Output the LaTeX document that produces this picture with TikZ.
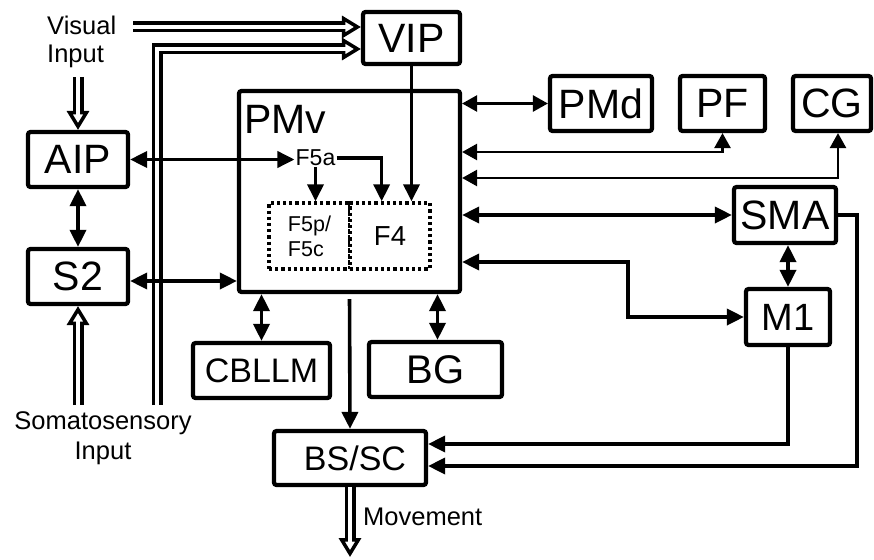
\documentclass[tikz,border=0pt]{standalone}
\usepackage{fontspec}
\setmainfont{Liberation Sans}
\usetikzlibrary{arrows.meta,calc}
\begin{document}
\begin{tikzpicture}[x=1pt,y=-1pt,
  box/.style={draw, line width=4.2pt, rounded corners=2.5pt, fill=white, inner sep=0pt, anchor=center},
  dotbox/.style={draw, line width=3.4pt, dash pattern=on 3.2pt off 3pt, fill=white, inner sep=0pt},
  fbig/.style={font=\fontsize{41}{46}\selectfont},
  fmid/.style={font=\fontsize{34}{40}\selectfont},
  fsmall/.style={font=\fontsize{25.5}{29}\selectfont},
  tip/.tip={Triangle[length=17pt,width=16pt]},
  arr/.style={line width=3.6pt, -tip},
  barr/.style={line width=3.6pt, tip-tip},
  tbarr/.style={line width=2.6pt, black, {Triangle[length=15pt,width=16pt]}-{Triangle[length=15pt,width=16pt]}},
  dbl/.style={line width=3.5pt, -{Triangle[open, length=19pt, width=22pt, line width=3.5pt]},
    preaction={draw, arrows=-, line width=11pt, shorten >=18pt},
    postaction={draw, arrows=-, white, line width=3.4pt, shorten >=13pt}}
]
\useasboundingbox (0,0) rectangle (874,559);

% boxes
\node[box,fbig,minimum width=97pt,minimum height=52pt] (VIP) at (411.5,38) {VIP};
\node[box,minimum width=221pt,minimum height=201pt] (PMv) at (349.5,191.5) {};
\node[fbig,anchor=base west,inner sep=0pt] (PMvl) at (244,133) {PMv};
\node[box,fbig,minimum width=102pt,minimum height=55pt] (PMd) at (601,103.5) {PMd};
\node[box,fbig,minimum width=85pt,minimum height=55pt] (PF) at (722.5,103.5) {PF};
\node[box,fbig,minimum width=78pt,minimum height=55pt] (CG) at (832,103.5) {CG};
\node[box,fbig,minimum width=102pt,minimum height=56pt] (SMA) at (785,215) {SMA};
\node[box,font=\fontsize{38}{44}\selectfont,minimum width=84pt,minimum height=56pt] (M1) at (788,317) {M1};
\node[box,fbig,minimum width=100pt,minimum height=55pt] (AIP) at (78,159.5) {AIP};
\node[box,fbig,minimum width=100pt,minimum height=55pt] (S2) at (78,276.5) {S2};
\node[box,fmid,minimum width=137pt,minimum height=55pt] (CBLLM) at (261.5,370.5) {CBLLM};
\node[box,font=\fontsize{40}{46}\selectfont,minimum width=133pt,minimum height=55pt] (BG) at (435.5,369.5) {BG};
\node[box,fmid,minimum width=152pt,minimum height=54pt] (BSSC) at (350,458) {\hspace*{10pt}BS/SC};
\node[dotbox,minimum width=81pt,minimum height=66pt,align=left,font=\fontsize{21.5}{25}\selectfont] (F5p) at (309.5,236) {F5p/\\F5c};
\node[dotbox,minimum width=80pt,minimum height=66pt,font=\fontsize{27.5}{32}\selectfont] (F4) at (390,236) {F4};
\node[font=\fontsize{23}{27}\selectfont,inner sep=1pt] (F5a) at (315.5,158) {F5a};

% free texts
\node[align=left,anchor=north west,inner sep=0pt,font=\fontsize{25.5}{28}\selectfont] (visin) at (47,16) {Visual\\Input};
\node[align=center,anchor=north,inner sep=0pt,font=\fontsize{25.5}{30}\selectfont] (somin) at (103,411) {Somatosensory\\Input};
\node[fsmall,anchor=base west,inner sep=0pt] (mov) at (363,525) {Movement};

% coordinates
\coordinate (vstart) at (133,27);
\coordinate (vbot) at (157,405);
\coordinate (viplow) at (0,49);
\coordinate (vin) at (78,77);
\coordinate (sin) at (78,405);
\coordinate (movend) at (350,557);
\coordinate (s2y) at (0,281);
\coordinate (pfy) at (0,152);
\coordinate (cgy) at (0,178);
\coordinate (m1bend) at (628,262);
\coordinate (smar) at (857,466);
\coordinate (m1c) at (0,444);

% double (hollow) arrows
\draw[dbl] (vstart) -- (VIP.west |- vstart);
\draw[dbl] (vbot) |- (VIP.west |- viplow);
\draw[dbl] (vin) -- (AIP.north);
\draw[dbl] (sin) -- (S2.south);
\draw[dbl] (BSSC.south) -- (movend);

% single arrows
\draw[barr] (AIP.east) -- (AIP.east -| F5a.west);
\draw[arr] (F5a.south) -- (F5a.south |- F5p.north);
\draw[arr] (F5a.east) -| ($(F4.north west)!0.4!(F4.north east)$);
\draw[arr] (VIP.south) -- (VIP.south |- F4.north);
\draw[barr] (AIP.south) -- (S2.north);
\draw[barr] (S2.east |- s2y) -- (PMv.west |- s2y);
\draw[tbarr] (PMv.east |- PMd.west) -- (PMd.west);
\draw[tbarr] (PF.south) |- (PMv.east |- pfy);
\draw[tbarr] ($(CG.south)+(6,0)$) |- (PMv.east |- cgy);
\draw[barr] (PMv.east |- SMA.west) -- (SMA.west);
\draw[barr] (PMv.east |- m1bend) -- (m1bend) |- (M1.west);
\draw[barr] (M1.north |- SMA.south) -- (M1.north);
\draw[arr] (SMA.east) -| (smar) -- (BSSC.east |- smar);
\draw[arr] (M1.south) |- (BSSC.east |- m1c);
\draw[arr, shorten <=5pt] (PMv.south) -- (BSSC.north);
\draw[barr] (PMv.south -| CBLLM.north) -- (CBLLM.north);
\draw[barr] ($(PMv.south -| BG.north)+(2,0)$) -- ($(BG.north)+(2,0)$);
\end{tikzpicture}
\end{document}
